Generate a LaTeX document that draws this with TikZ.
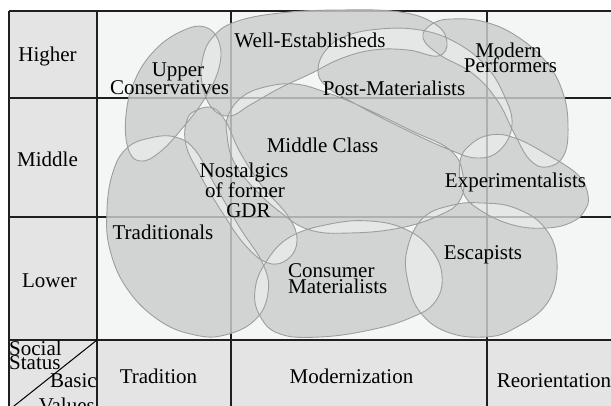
\documentclass[tikz,border=0pt]{standalone}
\usepackage{fontspec}
\setmainfont{Liberation Serif}

\definecolor{cellgray}{RGB}{228,228,228}
\definecolor{fieldwhite}{RGB}{244,246,246}
\definecolor{rimgray}{RGB}{158,158,158}
\definecolor{blobbase}{RGB}{226,226,226}
\definecolor{blobdark}{RGB}{151,151,151}

\tikzset{
	gridline/.style={color=black!88, line width=1.2pt},
	rim/.style={draw=rimgray, line width=0.9pt},
	blobunion/.style={fill=blobbase, fill opacity=.78},
	blobsingle/.style={fill=blobdark, fill opacity=.24, even odd rule},
	lbl/.style={font=\fontsize{21}{21}\selectfont, inner sep=0, anchor=base},
	lblw/.style={lbl, anchor=base west},
	lble/.style={lbl, anchor=base east}
}

% milieu outlines (pixel units, y downwards)
\newcommand{\milUpper}{plot[smooth cycle, tension=.7] coordinates {(205,27) (219,42) (219,68) (205,98) (185,125) (160,152) (140,161) (128,148) (126,115) (135,80) (155,50) (182,31)}}
\newcommand{\milWell}{plot[smooth cycle, tension=.7] coordinates {(202,83) (203,57) (213,37) (235,22) (280,13) (340,10) (400,12) (435,24) (447,42) (438,56) (408,50) (373,50) (340,59) (310,74) (280,88) (250,105) (230,116) (212,108)}}
\newcommand{\milPost}{plot[smooth cycle, tension=.7] coordinates {(318,70) (326,50) (346,36) (380,29) (420,30) (455,42) (485,65) (504,95) (512,125) (500,150) (478,158) (450,150) (400,127) (352,102) (326,86)}}
\newcommand{\milModern}{plot[smooth cycle, tension=.7] coordinates {(423,38) (432,24) (452,19) (485,22) (518,37) (547,63) (563,93) (568,125) (564,155) (547,167) (530,160) (515,135) (497,100) (472,73) (440,55)}}
\newcommand{\milMiddle}{plot[smooth cycle, tension=.7] coordinates {(228,116) (242,97) (265,87) (295,84) (325,92) (360,106) (410,130) (450,150) (463,175) (460,200) (440,215) (400,228) (350,233) (310,230) (280,212) (250,184) (233,160) (227,135)}}
\newcommand{\milNost}{plot[smooth cycle, tension=.7] coordinates {(197,110) (213,108) (226,122) (240,152) (262,186) (288,216) (297,240) (288,259) (268,263) (245,245) (222,212) (200,175) (186,145) (187,120)}}
\newcommand{\milTrad}{plot[smooth cycle, tension=.7] coordinates {(127,148) (150,138) (175,137) (195,150) (215,185) (240,228) (263,264) (268,293) (255,320) (225,335) (195,335) (160,321) (128,290) (110,250) (107,210) (113,172)}}
\newcommand{\milCons}{plot[smooth cycle, tension=.7] coordinates {(255,290) (266,262) (290,237) (330,224) (370,221) (405,229) (430,248) (442,275) (435,302) (410,318) (370,330) (320,337) (280,334) (260,316)}}
\newcommand{\milExp}{plot[smooth cycle, tension=.7] coordinates {(460,162) (470,145) (490,135) (515,138) (548,155) (578,175) (588,195) (585,210) (572,222) (547,228) (513,225) (480,210) (463,192)}}
\newcommand{\milEsc}{plot[smooth cycle, tension=.7] coordinates {(423,218) (453,205) (482,203) (515,208) (545,228) (557,262) (548,302) (515,328) (485,337) (447,332) (420,312) (408,282) (407,250)}}

\begin{document}
\begin{tikzpicture}[x=1pt, y=-1pt]
		\useasboundingbox (0,0) rectangle (611,405);
		\clip (0,0) rectangle (611,405);
		\fill[white] (0,0) rectangle (611,405);
		%%% cells
		\fill[fieldwhite] (97,11) rectangle (620,340);
		\fill[cellgray] (9,11) rectangle (97,340);
		\fill[cellgray] (9,340) rectangle (620,415);
		%%% grid
		\draw[gridline] (9,11) -- (620,11);
		\draw[gridline] (9,98) -- (620,98);
		\draw[gridline] (9,217) -- (620,217);
		\draw[gridline] (9,340) -- (620,340);
		\draw[gridline] (9,11) -- (9,415);
		\draw[gridline] (97,11) -- (97,415);
		\draw[gridline] (231,11) -- (231,415);
		\draw[gridline] (487,11) -- (487,415);
		\draw[line width=1pt] (97,340) -- (9,410);
		%%% milieus
		\fill[blobunion] \milUpper \milWell \milPost \milModern \milMiddle \milNost \milTrad \milCons \milExp \milEsc;
		\fill[blobsingle] \milUpper \milWell \milPost \milModern \milMiddle \milNost \milTrad \milCons \milExp \milEsc;
		\draw[rim] \milUpper \milWell \milPost \milModern \milMiddle \milNost \milTrad \milCons \milExp \milEsc;
		%%% axes
		\node[lbl] (higher) at (47.5,61) {Higher};
		\node[lbl] (middle) at (47.5,166) {Middle};
		\node[lbl] (lower) at (49.5,287) {Lower};
		\node[lbl] (tradition) at (158.5,383) {Tradition};
		\node[lbl] (modernization) at (351.5,383) {Modernization};
		\node[lbl] (reorientation) at (554,387) {Reorientation};
		\node[lblw] (social) at (9,355) {Social};
		\node[lblw] (status) at (9,369) {Status};
		\node[lble] (basic) at (97,387) {Basic};
		\node[lble] (values) at (95,412) {Values};
		%%% milieu names
		\node[lbl] (upper1) at (178,76) {Upper};
		\node[lbl] (upper2) at (169.5,94) {Conservatives};
		\node[lbl] (well) at (310,47) {Well-Establisheds};
		\node[lbl] (modern1) at (508.5,57) {Modern};
		\node[lbl] (modern2) at (510.5,72) {Performers};
		\node[lbl] (post) at (394,95) {Post-Materialists};
		\node[lbl] (mclass) at (322.5,152) {Middle Class};
		\node[lbl] (nost1) at (244,177) {Nostalgics};
		\node[lbl] (nost2) at (245,197) {of former};
		\node[lbl] (nost3) at (248.5,217) {GDR};
		\node[lbl] (exper) at (515.5,187) {Experimentalists};
		\node[lbl] (trad) at (163,239) {Traditionals};
		\node[lblw] (cons1) at (288,277) {Consumer};
		\node[lblw] (cons2) at (288,293) {Materialists};
		\node[lbl] (escap) at (483,259) {Escapists};
	\end{tikzpicture}
\end{document}
